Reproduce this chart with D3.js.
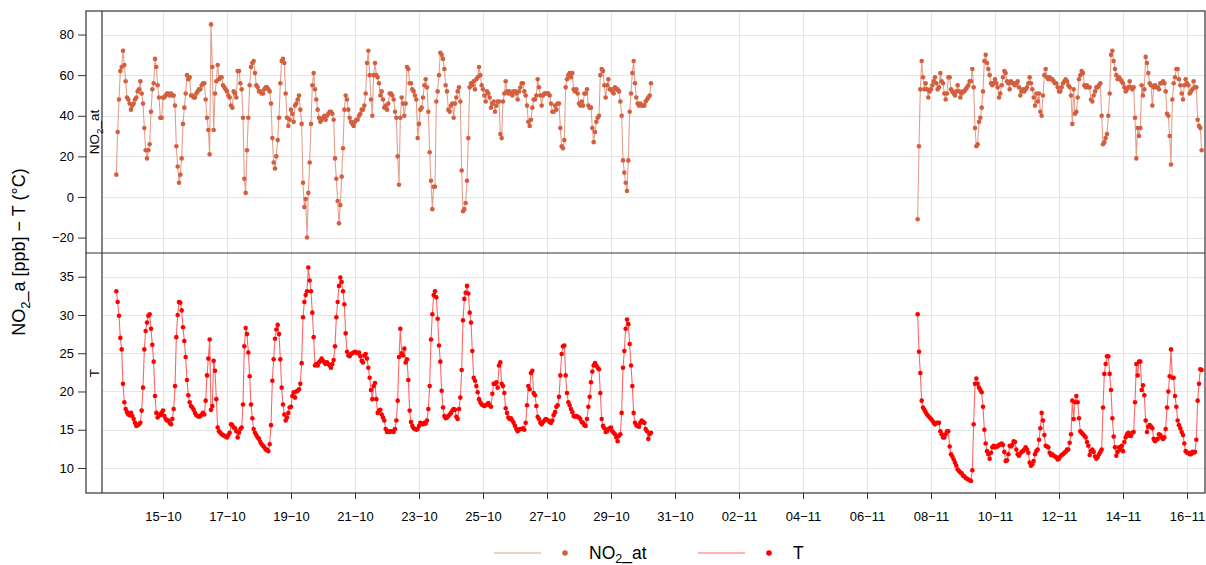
<!DOCTYPE html>
<html>
<head>
<meta charset="utf-8">
<script src="https://cdn.jsdelivr.net/npm/d3@7"></script>
<style>
  body { margin: 0; background: #fff; }
  svg { display: block; }
  text { font-family: "Liberation Sans", Arial, Helvetica, sans-serif; fill: #000; }
</style>
</head>
<body>
<svg id="chart" width="1206" height="565"></svg>
<script>
// Hourly NO2_at (ppb), first run: 13-10 13:00 to 30-10 06:00
const no2Oct = [
  11, 32, 48, 62, 64, 72, 65, 57, 49, 48, 46, 43, 45, 46, 48, 49, 52, 53, 57, 51,
  46, 34, 23, 19, 23, 26, 42, 53, 56, 68, 64, 55, 49, 39, 39, 49, 49, 50, 51, 51,
  50, 51, 50, 50, 45, 25, 15, 7, 11, 19, 36, 44, 51, 60, 58, 59, 50, 50, 49, 49,
  51, 52, 53, 53, 55, 56, 56, 48, 39, 33, 21, 85, 64, 33, 51, 57, 65, 58, 59, 59,
  55, 54, 53, 52, 50, 49, 45, 44, 52, 51, 49, 62, 62, 56, 53, 39, 9, 2, 23, 39,
  55, 64, 66, 67, 61, 55, 54, 52, 52, 51, 51, 53, 54, 54, 53, 52, 46, 29, 17, 14,
  20, 28, 39, 56, 67, 68, 66, 51, 39,
  35, 38, 43, 41, 37, 45, 46, 48, 50, 43, 36, 7, -5, -1, -20, 2, 17, 36, 55, 61,
  53, 48, 43, 39, 37, 38, 39, 40, 38, 40, 41, 42, 42, 41, 38, 19, 9, -2, -13, -4,
  10, 24, 43, 50, 48, 43, 39, 37, 36, 35, 37, 38, 38, 40, 41, 43, 43, 45, 51, 66,
  72, 60, 48, 40, 60, 66, 60, 59, 56, 50, 52, 48, 44, 45, 43, 46, 51, 51, 50, 48,
  42, 39, 20, 6, 39, 49, 46, 40, 46, 64, 63, 56, 56, 53, 52, 50, 48, 29, 36, 43,
  44, 49, 55, 58, 54, 42, 22, 8, -6, 5, 5, 47, 52, 60, 71, 70, 68, 63, 55, 52,
  43, 42, 45, 46, 39, 46, 49, 52, 54, 47, 13, -7, -6, -3, 8, 29, 54, 56, 55,
  57, 53, 58, 59, 64, 60, 55, 53, 50, 47, 52, 51, 49, 44, 46, 47, 42, 45, 47, 47,
  31, 29, 47, 51, 57, 52, 51, 52, 51, 50, 52, 52, 51, 48, 52, 54, 56, 56, 52, 50,
  45, 37, 35, 38, 44, 48, 48, 50, 58, 54, 50, 45, 50, 51, 51, 51, 51, 50, 46, 42,
  42, 45, 43, 46, 46, 34, 25, 24, 28, 54, 58, 60, 61, 59, 61, 53, 52, 53, 51, 46,
  45, 47, 45, 51, 51, 53, 45, 44, 44, 34, 27, 32, 37, 39, 40, 60, 63, 62, 55, 49,
  55, 58, 53, 53, 52, 51, 54, 53, 53, 52, 47, 40, 18, 12, 7, 3, 18, 42, 51, 61,
  67, 56, 49, 46, 45, 46, 45, 45, 45, 47, 48, 49, 50, 56
];

// Hourly NO2_at (ppb), second run: 07-11 14:00 to 16-11 11:00
const no2Nov = [
  -11, 25, 53, 67, 59, 53, 56, 53, 49, 52, 53, 55, 57, 59, 56, 53, 54, 61, 57, 56,
  51, 48, 51, 59, 59, 53, 52, 51, 50, 52, 55, 52, 49, 51, 52, 52, 53, 54, 55, 57,
  57, 63, 54, 34, 25, 26, 37, 39, 44, 52, 67, 70, 66, 63, 60, 56, 55, 56, 58, 56,
  54, 49, 51, 55, 59, 62, 61, 57, 56, 53, 57, 56, 56, 55, 56, 57, 54, 50, 52, 53,
  52, 53, 54, 56, 59, 56, 53, 49, 45, 51, 47, 51, 42, 40, 50, 60, 63, 59, 58, 59,
  58,
  58, 57, 56, 56, 54, 52, 52, 54, 56, 57, 58, 57, 55, 54, 50, 36, 53, 41, 42, 49,
  58, 60, 62, 61, 55, 54, 55, 54, 54, 48, 47, 50, 52, 54, 54, 55, 56, 40, 26, 27,
  29, 31, 40, 51, 70, 72, 67, 63, 60, 58, 59, 58, 57, 56, 54, 52, 53, 54, 57, 54,
  53, 54, 39, 19, 34, 30, 34, 55, 50, 53, 69, 66, 61, 56, 55, 45, 54, 55, 54, 54,
  53, 56, 56, 57, 56, 52, 41, 40, 30, 16, 48, 56, 59, 63, 63, 58, 55, 51, 48, 55,
  58, 56, 55, 51, 52, 53, 57, 54, 54, 38, 35, 34, 23
];

// Hourly temperature T (°C), first run
const tempOct = [
  33.1, 31.7, 29.9, 27.0, 25.5, 21.0, 18.6, 17.7, 17.3, 17.0, 16.9, 17.2, 16.8, 16.4, 15.9, 15.5, 15.6, 15.7, 15.9, 17.5,
  20.5, 25.5, 27.9, 29.0, 29.9, 30.1, 28.2, 26.1, 23.9, 19.4, 17.2, 16.6, 17.0, 16.9, 17.2, 17.5, 16.8, 16.4, 16.2, 16.2,
  15.9, 15.7, 16.4, 17.7, 20.7, 27.1, 30.0, 31.7, 31.6, 30.6, 28.4, 26.6, 24.5, 21.5, 19.5, 18.6, 18.1, 17.9, 17.6, 17.2,
  16.9, 16.8, 16.7, 16.8, 17.0, 17.2, 17.0, 18.8, 22.1, 24.3, 26.8, 17.6, 18.1, 24.0, 22.7, 19.0, 15.3, 14.8, 14.6, 14.4,
  14.3, 14.2, 14.1, 14.0, 14.3, 14.6, 15.7, 15.6, 15.3, 15.2, 14.8, 14.0, 14.6, 15.1, 15.3, 18.3, 25.9, 28.3, 27.5, 25.1,
  22.0, 18.3, 16.5, 15.1, 14.6, 14.3, 14.0, 13.8, 13.4, 13.1, 12.9, 12.7, 12.4, 12.4, 12.2, 13.1, 15.6, 21.4, 24.2, 26.9,
  28.1, 28.7, 27.5, 24.2, 20.5, 18.3, 17.0, 16.2, 16.6,
  17.2, 17.9, 18.0, 19.4, 19.9, 19.2, 20.0, 20.1, 20.3, 21.0, 23.7, 29.7, 31.7, 32.6, 33.1, 36.2, 34.5, 33.1, 30.3, 27.1,
  23.4, 23.6, 23.4, 23.8, 24.0, 24.3, 24.0, 23.8, 23.6, 23.8, 23.6, 23.4, 23.1, 23.6, 24.1, 25.9, 29.7, 31.7, 33.8, 34.9,
  34.3, 33.1, 31.4, 27.6, 25.2, 24.7, 24.6, 24.9, 25.0, 25.1, 25.2, 25.1, 25.0, 25.1, 24.6, 24.0, 23.8, 24.7, 24.9, 24.3,
  23.1, 21.8, 20.2, 19.0, 20.7, 21.1, 19.0, 17.2, 17.5, 17.6, 17.0, 16.6, 16.2, 15.1, 14.7, 14.8, 14.7, 14.8, 14.8, 14.7,
  15.1, 16.2, 18.8, 24.5, 28.2, 25.0, 24.7, 25.6, 23.8, 24.2, 21.5, 17.5, 16.0, 15.5, 15.2, 15.1, 15.0, 15.1, 15.5, 15.9,
  15.8, 15.7, 15.9, 15.8, 16.2, 17.7, 20.7, 26.8, 30.1, 32.6, 33.1, 32.3, 29.5, 26.0, 23.9, 20.1, 17.9, 16.8, 16.5, 16.6,
  16.8, 17.0, 17.2, 17.5, 17.7, 17.6, 16.7, 16.4, 17.7, 19.2, 22.8, 29.3, 32.1, 32.9, 33.8, 32.8, 30.3, 29.0, 25.3,
  21.8, 21.4, 20.7, 19.9, 19.0, 18.6, 18.3, 18.2, 18.1, 18.2, 18.3, 18.5, 18.2, 18.0, 19.7, 21.0, 21.0, 21.2, 20.5, 23.4,
  23.8, 21.0, 20.7, 19.8, 17.8, 17.2, 16.6, 16.4, 16.5, 16.2, 15.9, 15.5, 15.1, 14.8, 15.0, 15.1, 15.1, 15.2, 15.0, 15.9,
  18.2, 20.7, 20.3, 22.4, 22.7, 19.8, 19.5, 18.1, 16.7, 16.4, 15.9, 15.7, 16.0, 16.2, 16.4, 16.3, 16.2, 16.0, 15.9, 16.2,
  16.9, 17.3, 18.0, 18.2, 19.3, 22.1, 24.9, 25.9, 26.0, 22.1, 19.8, 18.6, 18.2, 17.7, 17.3, 16.8, 16.7, 16.8, 16.7, 16.6,
  16.4, 16.0, 15.9, 15.6, 15.5, 16.4, 18.0, 19.3, 21.2, 22.6, 23.4, 23.7, 23.4, 23.1, 22.9, 19.8, 16.4, 15.5, 15.2, 14.7,
  14.8, 15.1, 15.2, 15.3, 14.8, 14.6, 14.4, 14.0, 13.5, 14.2, 14.4, 17.2, 23.1, 25.3, 28.2, 29.4, 28.8, 26.2, 23.4, 20.7,
  17.2, 15.9, 15.6, 15.5, 15.4, 15.9, 16.2, 16.0, 15.9, 15.1, 14.8, 13.8, 14.4, 14.6
];

// Hourly temperature T (°C), second run
const tempNov = [
  30.1, 25.2, 22.4, 18.8, 17.9, 17.6, 17.3, 17.0, 16.8, 16.6, 16.4, 16.2, 15.9, 15.7, 15.9, 15.9, 15.9, 14.8, 14.4, 14.0,
  14.0, 14.4, 14.8, 14.8, 12.8, 11.8, 11.5, 11.1, 10.7, 10.3, 9.8, 9.6, 9.4, 9.3, 9.0, 8.9, 8.7, 8.6, 8.5, 8.4,
  8.3, 9.7, 15.7, 21.0, 21.7, 21.0, 20.5, 20.2, 19.9, 18.0, 15.0, 13.2, 12.2, 11.8, 11.2, 12.0, 12.7, 12.9, 12.7, 12.8,
  12.8, 13.0, 13.1, 13.2, 13.0, 12.1, 10.9, 11.0, 11.8, 12.9, 12.8, 13.0, 13.5, 13.4, 12.4, 11.8, 11.6, 11.9, 12.1, 12.2,
  12.4, 12.7, 12.4, 12.0, 10.7, 10.3, 10.5, 10.9, 11.8, 12.2, 12.4, 13.7, 15.2, 17.2, 16.2, 14.3, 12.9, 12.8, 12.7, 12.0,
  11.7,
  11.8, 11.6, 11.5, 11.4, 11.1, 11.2, 11.5, 11.7, 11.8, 12.0, 12.1, 12.4, 12.4, 13.3, 14.4, 18.8, 16.4, 18.6, 19.4, 18.6,
  16.5, 14.8, 14.6, 14.4, 14.2, 14.0, 13.4, 12.9, 11.7, 12.2, 12.4, 12.1, 11.5, 11.2, 11.4, 11.8, 12.1, 12.4, 17.9, 22.3,
  23.6, 24.6, 24.6, 22.3, 20.2, 16.5, 14.1, 12.7, 11.6, 12.1, 12.7, 12.4, 12.9, 12.2, 13.4, 14.0, 14.4, 14.6, 14.2, 14.2,
  14.6, 14.7, 18.6, 23.6, 22.1, 23.9, 23.9, 20.2, 20.8, 19.5, 16.2, 14.7, 15.4, 15.6, 15.4, 15.2, 13.8, 13.5, 13.7, 13.8,
  14.4, 14.3, 14.0, 13.8, 14.0, 15.1, 17.9, 20.0, 22.0, 25.5, 21.8, 21.8, 19.4, 18.0, 16.2, 15.6, 15.2, 14.7, 14.3, 13.2,
  12.2, 12.0, 12.0, 11.8, 11.8, 12.1, 12.0, 12.1, 13.7, 18.8, 21.0, 22.9, 22.8
];

// First timestamp of each run (UTC, hourly steps)
const runStarts = [Date.UTC(2015, 9, 13, 13), Date.UTC(2015, 10, 7, 14)];
const timeWindow = [Date.UTC(2015, 9, 13, 2, 15), Date.UTC(2015, 10, 16, 13, 30)];

const xTickLabels = ["15-10", "17-10", "19-10", "21-10", "23-10", "25-10", "27-10", "29-10",
  "31-10", "02-11", "04-11", "06-11", "08-11", "10-11", "12-11", "14-11", "16-11"];
const no2Ticks = [-20, 0, 20, 40, 60, 80];
const tempTicks = [10, 15, 20, 25, 30, 35];
const no2Domain = [-27.6, 91.6];
const tempDomain = [6.73, 38.1];

const no2Colour = "#d45f3e";
const tempColour = "#ff0000";

(function draw() {
  // ---- layout ----
  const stripX = 86, plotL = 102, plotR = 1205;
  const plotT = 11, plotM = 253, plotB = 493;
  const font = '"Liberation Sans", Arial, Helvetica, sans-serif';
  const minus = s => String(s).replace(/-/g, "\u2212");

  const svg = d3.select("#chart");

  const x = d3.scaleUtc().domain(timeWindow.map(t => new Date(t))).range([plotL, plotR]);
  const yNo2 = d3.scaleLinear().domain(no2Domain).range([plotM, plotT]);
  const yTemp = d3.scaleLinear().domain(tempDomain).range([plotB, plotM]);

  const parseTick = d3.utcParse("%d-%m-%Y");
  const tickDates = xTickLabels.map(s => parseTick(s + "-2015"));

  const hour = 3600e3;
  const toPoints = (vals, start) => vals.map((v, i) => ({ t: new Date(start + i * hour), v }));

  const panels = [
    { y: yNo2, ticks: no2Ticks, y0: plotT, y1: plotM, colour: no2Colour,
      runs: [toPoints(no2Oct, runStarts[0]), toPoints(no2Nov, runStarts[1])] },
    { y: yTemp, ticks: tempTicks, y0: plotM, y1: plotB, colour: tempColour,
      runs: [toPoints(tempOct, runStarts[0]), toPoints(tempNov, runStarts[1])] }
  ];

  // grid lines
  const grid = svg.append("g").attr("stroke", "#e6e6e6").attr("stroke-width", 1);
  panels.forEach(p => {
    grid.selectAll(null).data(p.ticks).join("line")
      .attr("x1", plotL).attr("x2", plotR)
      .attr("y1", d => Math.round(p.y(d)) + 0.5).attr("y2", d => Math.round(p.y(d)) + 0.5);
    grid.selectAll(null).data(tickDates).join("line")
      .attr("x1", d => Math.round(x(d)) + 0.5).attr("x2", d => Math.round(x(d)) + 0.5)
      .attr("y1", p.y0).attr("y2", p.y1);
  });

  // series: connecting lines, then points
  panels.forEach(p => {
    const line = d3.line().x(d => x(d.t)).y(d => p.y(d.v));
    const g = svg.append("g");
    g.selectAll("path").data(p.runs).join("path")
      .attr("d", line)
      .attr("fill", "none")
      .attr("stroke", p.colour)
      .attr("stroke-opacity", 0.6)
      .attr("stroke-width", 1.1);
    g.selectAll("circle").data(p.runs.flat()).join("circle")
      .attr("cx", d => x(d.t)).attr("cy", d => p.y(d.v))
      .attr("r", 2.3)
      .attr("fill", p.colour);
  });

  // y axes
  panels.forEach(p => {
    const ax = svg.append("g")
      .attr("transform", `translate(${stripX},0)`)
      .call(d3.axisLeft(p.y).tickValues(p.ticks).tickSize(8).tickPadding(4).tickFormat(minus));
    ax.select(".domain").remove();
    ax.selectAll(".tick line").attr("stroke", "#333");
    ax.selectAll("text").attr("font-family", font).attr("font-size", 13).attr("fill", "#000");
  });

  // x axis
  const xa = svg.append("g")
    .attr("transform", `translate(0,${plotB})`)
    .call(d3.axisBottom(x).tickValues(tickDates).tickSize(6).tickPadding(13)
      .tickFormat(d => minus(d3.utcFormat("%d-%m")(d))));
  xa.select(".domain").remove();
  xa.selectAll(".tick line").attr("stroke", "#333");
  xa.selectAll("text").attr("font-family", font).attr("font-size", 13).attr("fill", "#000");

  // panel frames and strips
  const frame = svg.append("g").attr("fill", "none").attr("stroke", "#333").attr("stroke-width", 1.2);
  frame.append("rect").attr("x", stripX).attr("y", plotT).attr("width", plotR - stripX).attr("height", plotB - plotT);
  frame.append("line").attr("x1", stripX).attr("x2", plotR).attr("y1", plotM).attr("y2", plotM);
  frame.append("line").attr("x1", plotL).attr("x2", plotL).attr("y1", plotT).attr("y2", plotB);

  // label with a subscript part
  function subLabel(sel, base, sub, rest, size, drop = 0.3) {
    sel.attr("font-size", size);
    sel.append("tspan").text(base);
    sel.append("tspan").attr("font-size", size * 0.72).attr("dy", size * drop).text(sub);
    sel.append("tspan").attr("dy", -size * drop).text(rest);
  }

  // strip labels
  const s1 = svg.append("text")
    .attr("transform", `translate(${(stripX + plotL) / 2 + 5},${(plotT + plotM) / 2}) rotate(-90)`)
    .attr("text-anchor", "middle");
  subLabel(s1, "NO", "2", "_at", 13.5);
  svg.append("text")
    .attr("transform", `translate(${(stripX + plotL) / 2 + 5},${(plotM + plotB) / 2}) rotate(-90)`)
    .attr("text-anchor", "middle").attr("font-size", 13.5).text("T");

  // y title
  const yt = svg.append("text")
    .attr("transform", `translate(25,${(plotT + plotB) / 2}) rotate(-90)`)
    .attr("text-anchor", "middle");
  subLabel(yt, "NO", "2", "_a [ppb] \u2212 T (\u00b0C)", 18);

  // legend
  const legend = svg.append("g").attr("transform", "translate(0,553)");
  const items = [
    { label: ["NO", "2", "_at"], colour: no2Colour, x0: 494 },
    { label: ["T", "", ""], colour: tempColour, x0: 698 }
  ];
  items.forEach(it => {
    legend.append("line").attr("x1", it.x0).attr("x2", it.x0 + 47).attr("y1", 0).attr("y2", 0)
      .attr("stroke", it.colour).attr("stroke-opacity", 0.6).attr("stroke-width", 1.1);
    legend.append("circle").attr("cx", it.x0 + 71).attr("cy", 0).attr("r", 2.8).attr("fill", it.colour);
    const t = legend.append("text").attr("x", it.x0 + 95).attr("y", 6);
    if (it.label[1]) subLabel(t, it.label[0], it.label[1], it.label[2], 17.5, 0.2);
    else t.attr("font-size", 17.5).text(it.label[0]);
  });
})();
</script>
</body>
</html>
